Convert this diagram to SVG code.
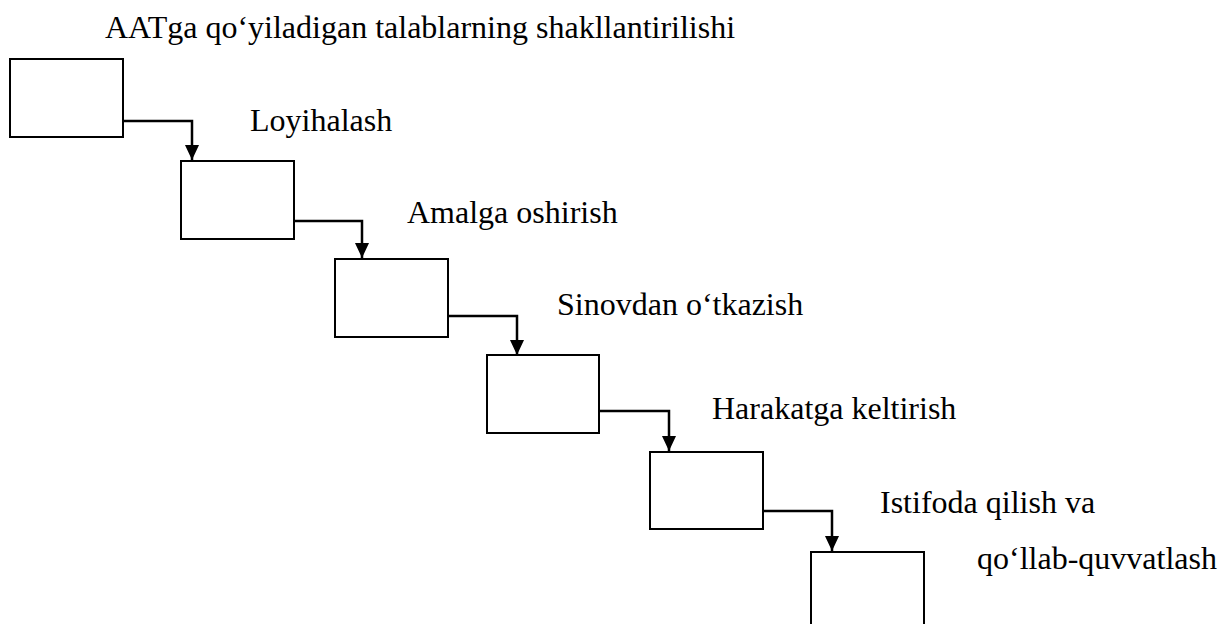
<svg xmlns="http://www.w3.org/2000/svg" width="1226" height="624" viewBox="0 0 1226 624">
<defs>
<marker id="arr" markerWidth="15" markerHeight="14" refX="15" refY="7" orient="auto" markerUnits="userSpaceOnUse" viewBox="0 0 15 14">
<path d="M0,0 L15,7 L0,14 Z" fill="#000"/>
</marker>
<style>
.box{fill:#fff;stroke:#000;stroke-width:2}
.lbl{font-family:"Liberation Serif","Times New Roman",serif;font-size:32px;fill:#000}
.con{fill:none;stroke:#000;stroke-width:2.5}
</style>
</defs>
<rect width="1226" height="624" fill="#fff"/>
<text class="lbl" x="105" y="38">AATga qo‘yiladigan talablarning shakllantirilishi</text>
<g id="n1"><rect class="box" x="10" y="59" width="113" height="78"/></g>
<text class="lbl" x="250" y="131">Loyihalash</text>
<g id="n2"><rect class="box" x="181" y="161" width="113" height="78"/></g>
<text class="lbl" x="407" y="223">Amalga oshirish</text>
<g id="n3"><rect class="box" x="335" y="259" width="113" height="78"/></g>
<text class="lbl" x="557" y="315">Sinovdan o‘tkazish</text>
<g id="n4"><rect class="box" x="487" y="355" width="112" height="78"/></g>
<text class="lbl" x="712" y="419">Harakatga keltirish</text>
<g id="n5"><rect class="box" x="650" y="452" width="113" height="77"/></g>
<text class="lbl" x="880" y="513">Istifoda qilish va</text>
<text class="lbl" x="977" y="569">qo‘llab-quvvatlash</text>
<g id="n6"><rect class="box" x="811" y="552" width="113" height="80"/></g>
<g id="connectors">
<path class="con" d="M123,121 H192 V160" marker-end="url(#arr)"/>
<path class="con" d="M294,221 H362 V258" marker-end="url(#arr)"/>
<path class="con" d="M448,316 H517 V355" marker-end="url(#arr)"/>
<path class="con" d="M599,411 H669 V451" marker-end="url(#arr)"/>
<path class="con" d="M763,511 H832 V551" marker-end="url(#arr)"/>
</g>
</svg>
